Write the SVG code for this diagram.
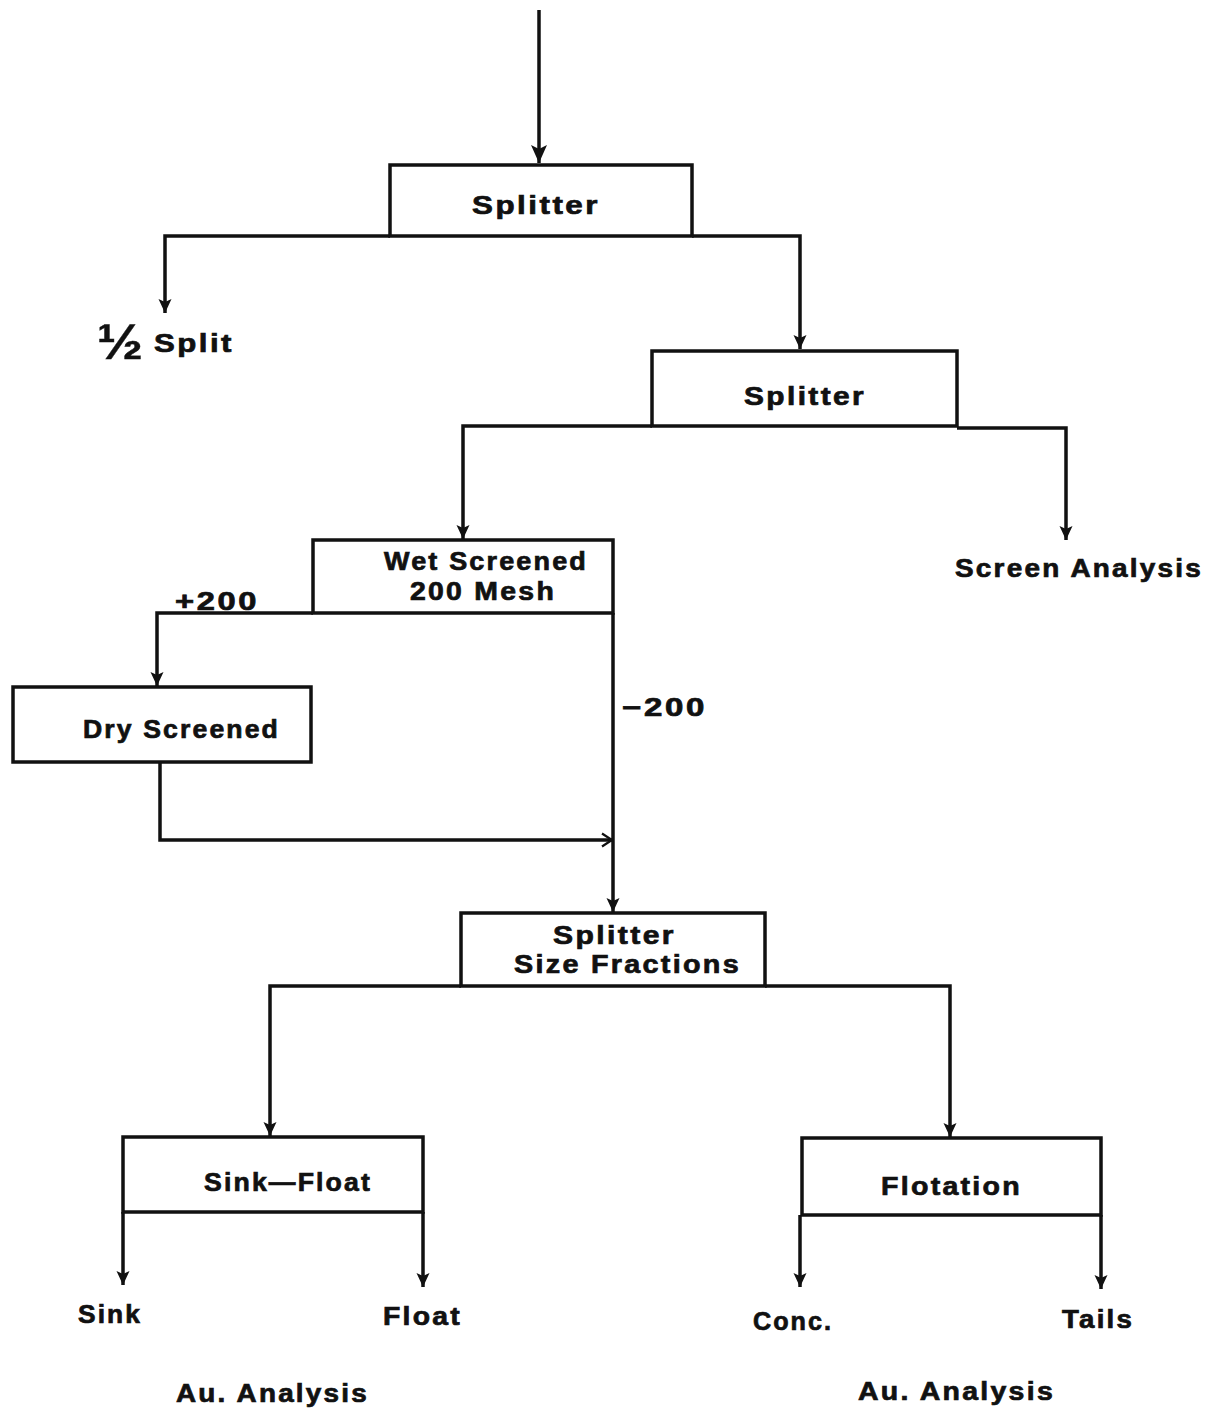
<svg xmlns="http://www.w3.org/2000/svg" width="1208" height="1409" viewBox="0 0 1208 1409">
  <defs>
    <!-- small filled arrowhead, drawn pointing along +x -->
    <marker id="arr" markerWidth="16" markerHeight="14" refX="15" refY="7" orient="auto" markerUnits="userSpaceOnUse" viewBox="0 0 16 14">
      <path d="M1,0.5 L15,7 L1,13.5 L4,7 Z" fill="#111"/>
    </marker>
    <!-- open arrowhead for the side entry -->
    <marker id="arrOpen" markerWidth="14" markerHeight="16" refX="12" refY="8" orient="auto" markerUnits="userSpaceOnUse" viewBox="0 0 14 16">
      <path d="M2,1.5 L12,8 L2,14.5" fill="none" stroke="#111" stroke-width="2.2"/>
    </marker>
    <!-- larger arrowhead for the feed line -->
    <marker id="arrBig" markerWidth="20" markerHeight="18" refX="19" refY="9" orient="auto" markerUnits="userSpaceOnUse" viewBox="0 0 20 18">
      <path d="M1,1 L19,9 L1,17 L5,9 Z" fill="#111"/>
    </marker>
  </defs>
  <style>
    .box { fill: #fff; stroke: #111; stroke-width: 3.5; }
    .ln { fill: none; stroke: #111; stroke-width: 3.5; stroke-linejoin: miter; }
    .t { font-family: "Liberation Sans", Arial, sans-serif; font-weight: bold; font-size: 25px; fill: #111; stroke: #111; stroke-width: 0.7; letter-spacing: 2px; }
    .half { font-size: 50px; letter-spacing: 0; stroke-width: 0.4; }
  </style>
  <rect width="1208" height="1409" fill="#fff"/>

  <g id="connectors">
    <!-- feed -->
    <path class="ln" d="M539,10 L539,163" marker-end="url(#arrBig)"/>
    <!-- splitter 1 outputs -->
    <path class="ln" d="M390,236 L165,236 L165,313" marker-end="url(#arr)"/>
    <path class="ln" d="M692,236 L800,236 L800,349" marker-end="url(#arr)"/>
    <!-- splitter 2 outputs -->
    <path class="ln" d="M652,426 L463,426 L463,539" marker-end="url(#arr)"/>
    <path class="ln" d="M957,428 L1066,428 L1066,540" marker-end="url(#arr)"/>
    <!-- wet screen outputs -->
    <path class="ln" d="M313,613 L157,613 L157,686" marker-end="url(#arr)"/>
    <path class="ln" d="M613,613 L613,912" marker-end="url(#arr)"/>
    <!-- dry screen return -->
    <path class="ln" d="M160,762 L160,840 L612,840" marker-end="url(#arrOpen)"/>
    <!-- size fraction splitter outputs -->
    <path class="ln" d="M461,986 L270,986 L270,1136" marker-end="url(#arr)"/>
    <path class="ln" d="M765,986 L950,986 L950,1137" marker-end="url(#arr)"/>
    <!-- sink-float outputs -->
    <path class="ln" d="M123,1212 L123,1285" marker-end="url(#arr)"/>
    <path class="ln" d="M423,1212 L423,1287" marker-end="url(#arr)"/>
    <!-- flotation outputs -->
    <path class="ln" d="M800,1215 L800,1287" marker-end="url(#arr)"/>
    <path class="ln" d="M1101,1215 L1101,1289" marker-end="url(#arr)"/>
  </g>

  <g id="splitter1">
    <rect class="box" x="390" y="165" width="302" height="71"/>
    <text class="t" x="472" y="214" textLength="128" lengthAdjust="spacingAndGlyphs">Splitter</text>
  </g>

  <g id="half-split">
    <text class="t half" x="97" y="359" textLength="46" lengthAdjust="spacingAndGlyphs">½</text>
    <text class="t" x="154" y="352" textLength="80" lengthAdjust="spacingAndGlyphs">Split</text>
  </g>

  <g id="splitter2">
    <rect class="box" x="652" y="351" width="305" height="75"/>
    <text class="t" x="744" y="405" textLength="122" lengthAdjust="spacingAndGlyphs">Splitter</text>
  </g>

  <g id="screen-analysis">
    <text class="t" x="955" y="577" textLength="248" lengthAdjust="spacingAndGlyphs">Screen  Analysis</text>
  </g>

  <g id="wet-screened">
    <rect class="box" x="313" y="540" width="300" height="73"/>
    <text class="t" x="384" y="570" textLength="204" lengthAdjust="spacingAndGlyphs">Wet Screened</text>
    <text class="t" x="410" y="600" textLength="146" lengthAdjust="spacingAndGlyphs">200 Mesh</text>
  </g>

  <g id="mesh-labels">
    <text class="t" x="175" y="610" textLength="84" lengthAdjust="spacingAndGlyphs">+200</text>
    <text class="t" x="622" y="716" textLength="85" lengthAdjust="spacingAndGlyphs">−200</text>
  </g>

  <g id="dry-screened">
    <rect class="box" x="13" y="687" width="298" height="75"/>
    <text class="t" x="83" y="738" textLength="197" lengthAdjust="spacingAndGlyphs">Dry Screened</text>
  </g>

  <g id="splitter-size-fractions">
    <rect class="box" x="461" y="913" width="304" height="73"/>
    <text class="t" x="553" y="944" textLength="123" lengthAdjust="spacingAndGlyphs">Splitter</text>
    <text class="t" x="514" y="973" textLength="227" lengthAdjust="spacingAndGlyphs">Size  Fractions</text>
  </g>

  <g id="sink-float">
    <rect class="box" x="123" y="1137" width="300" height="75"/>
    <text class="t" x="204" y="1191" textLength="168" lengthAdjust="spacingAndGlyphs">Sink—Float</text>
  </g>

  <g id="flotation">
    <rect class="box" x="802" y="1138" width="299" height="77"/>
    <text class="t" x="881" y="1195" textLength="141" lengthAdjust="spacingAndGlyphs">Flotation</text>
  </g>

  <g id="sink-float-products">
    <text class="t" x="78" y="1323" textLength="64" lengthAdjust="spacingAndGlyphs">Sink</text>
    <text class="t" x="383" y="1325" textLength="79" lengthAdjust="spacingAndGlyphs">Float</text>
    <text class="t" x="176" y="1402" textLength="193" lengthAdjust="spacingAndGlyphs">Au.  Analysis</text>
  </g>

  <g id="flotation-products">
    <text class="t" x="753" y="1330" textLength="80" lengthAdjust="spacingAndGlyphs">Conc.</text>
    <text class="t" x="1062" y="1328" textLength="72" lengthAdjust="spacingAndGlyphs">Tails</text>
    <text class="t" x="858" y="1400" textLength="197" lengthAdjust="spacingAndGlyphs">Au.  Analysis</text>
  </g>
</svg>
